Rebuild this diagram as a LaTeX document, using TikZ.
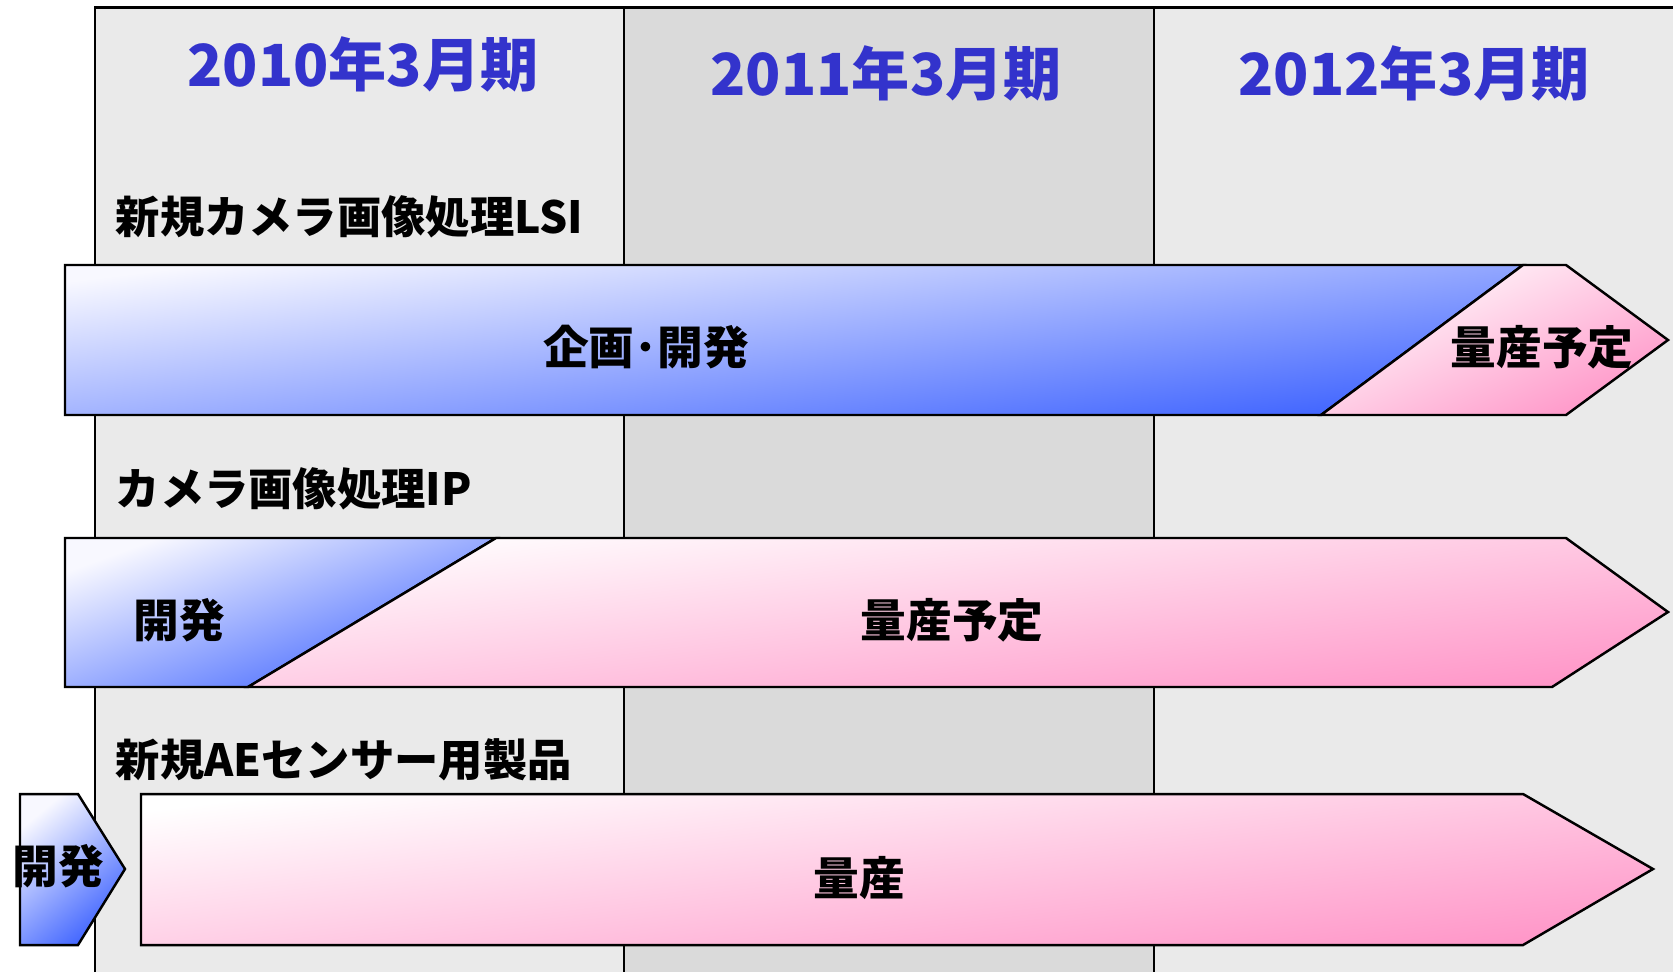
\documentclass[tikz,border=0pt]{standalone}
\usepackage{fontspec}
\setmainfont{Noto Sans CJK JP}
\usetikzlibrary{positioning}
\definecolor{yearblue}{HTML}{3333CC}
\definecolor{devlight}{HTML}{F8F8FF}
\definecolor{devdark}{HTML}{3D62FF}
\definecolor{masslight}{HTML}{FFFFFF}
\definecolor{massdark}{HTML}{FF96C8}
\definecolor{gridlight}{HTML}{EAEAEA}
\definecolor{griddark}{HTML}{DADADA}

\begin{document}
\begin{tikzpicture}
	[x=0.01cm,y=-0.01cm,
	year/.style={font=\fontsize{16.5}{18}\selectfont\bfseries,text=yearblue},
	product/.style={anchor=west,inner sep=0pt,font=\fontsize{12.6}{15}\selectfont\bfseries},
	phase/.style={font=\fontsize{13}{15}\selectfont\bfseries},
	dev/.style={draw,line width=0.7pt,top color=devlight,bottom color=devdark,shading angle=#1},
	mass/.style={draw,line width=0.7pt,top color=masslight,bottom color=massdark,shading angle=#1}]
	\useasboundingbox (0,0) rectangle (1673,972);
	\fill[gridlight] (95,7.5) rectangle (1673,972);
	\fill[griddark] (624,7.5) rectangle (1154,972);
	\draw[line width=0.8pt] (95,972) -- (95,7.5) -- (1673,7.5);
	\draw[line width=0.8pt] (624,7.5) -- (624,972);
	\draw[line width=0.8pt] (1154,7.5) -- (1154,972);
	\node[year] (fy2010) at (363,64) {2010年3月期};
	\node[year] (fy2011) at (886,73) {2011年3月期};
	\node[year] (fy2012) at (1414,73) {2012年3月期};
	\node[product] (lsi) at (115,217) {新規カメラ画像処理LSI};
	\node[product] (ip) at (115,489) {カメラ画像処理IP};
	\node[product] (ae) at (115,760) {新規AEセンサー用製品};
	\path[dev=7] (65,265) -- (1523,265) -- (1321,415) -- (65,415) -- cycle;
	\path[mass=25] (1523,265) -- (1566,265) -- (1668,340) -- (1566,415) -- (1321,415) -- cycle;
	\path[dev=20] (65,538) -- (496,538) -- (248,687) -- (65,687) -- cycle;
	\path[mass=7] (496,538) -- (1566,538) -- (1668,612) -- (1552,687) -- (248,687) -- cycle;
	\path[dev=40] (20,794) -- (78,794) -- (125,869) -- (78,945) -- (20,945) -- cycle;
	\path[mass=7] (141,794) -- (1523,794) -- (1653,869) -- (1523,945) -- (141,945) -- cycle;
	\node[phase] (lsidev) at (646,347) {企画･開発};
	\node[phase] (lsimass) at (1542,347) {量産予定};
	\node[phase] (ipdev) at (179,620) {開発};
	\node[phase] (ipmass) at (952,620) {量産予定};
	\node[phase] (aedev) at (58,866) {開発};
	\node[phase] (aemass) at (859,878) {量産};
\end{tikzpicture}
\end{document}
